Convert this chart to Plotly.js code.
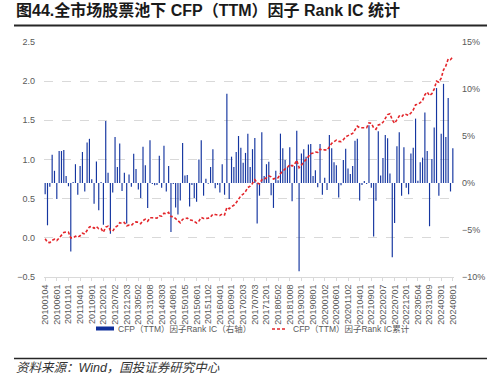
<!DOCTYPE html>
<html>
<head>
<meta charset="utf-8">
<script src="https://cdn.plot.ly/plotly-3.0.1.min.js"></script>
<style>html,body{margin:0;padding:0;background:#fff;}#chart{width:493px;height:378px;}</style>
</head>
<body>
<div id="chart"></div>
<script>
// Month-start trading dates (categories)
const dates = [
"20100104","20100201","20100301","20100401","20100504","20100601","20100701","20100802","20100901","20101008","20101101","20101201",
"20110104","20110201","20110301","20110401","20110503","20110601","20110701","20110801","20110901","20111010","20111101","20111201",
"20120104","20120201","20120301","20120405","20120502","20120601","20120702","20120801","20120903","20121008","20121101","20121203",
"20130104","20130201","20130301","20130401","20130502","20130603","20130701","20130801","20130902","20131008","20131101","20131202",
"20140102","20140207","20140303","20140401","20140505","20140603","20140701","20140801","20140901","20141008","20141103","20141201",
"20150105","20150202","20150302","20150401","20150504","20150601","20150701","20150803","20150901","20151008","20151102","20151201",
"20160104","20160201","20160301","20160401","20160503","20160601","20160701","20160801","20160901","20161010","20161101","20161201",
"20170103","20170203","20170301","20170405","20170502","20170601","20170703","20170801","20170901","20171009","20171101","20171201",
"20180102","20180201","20180301","20180402","20180502","20180601","20180702","20180801","20180903","20181008","20181101","20181203",
"20190102","20190201","20190301","20190401","20190506","20190603","20190701","20190801","20190902","20191008","20191101","20191202",
"20200102","20200203","20200302","20200401","20200506","20200601","20200701","20200803","20200901","20201009","20201102","20201201",
"20210104","20210201","20210301","20210401","20210506","20210601","20210701","20210802","20210901","20211008","20211101","20211201",
"20220104","20220207","20220301","20220401","20220505","20220601","20220701","20220801","20220901","20221010","20221101","20221201",
"20230103","20230201","20230301","20230403","20230504","20230601","20230703","20230801","20230901","20231009","20231101","20231201",
"20240102","20240201","20240301","20240401","20240506","20240603","20240701","20240801"
];

// Monthly Rank IC, in percent (right axis)
const rankIC = [
-1.2,-4.5,-0.4,3.0,1.3,-1.7,3.4,3.4,3.5,0.75,
-0.35,-7.3,0.1,2.0,-1.25,1.8,3.3,-0.9,4.3,4.7,
0.4,-2.2,2.3,-2.9,0.1,-4.45,6.6,1.1,-5.4,-1.0,
4.9,1.7,4.2,-0.85,1.1,-4.3,0.9,-0.4,3.1,1.5,
-0.7,-1.6,3.85,1.9,-2.65,4.55,-0.1,-0.25,-0.2,2.9,
-0.5,3.95,-0.9,1.8,-5.2,-0.1,-2.6,-3.35,-1.85,4.25,
0.8,0.85,-2.5,-0.2,-1.6,-2.0,2.5,4.55,-1.35,0.45,
-0.07,1.7,3.6,-0.55,-0.2,-1.0,2.0,-1.25,9.5,-1.7,
2.8,1.7,3.3,5.0,3.75,2.15,3.2,5.25,1.7,3.6,
4.8,-4.3,-1.35,5.4,0.75,2.0,2.25,-1.3,-2.65,1.3,
0.3,5.25,3.7,2.45,1.7,3.8,-1.95,1.8,5.55,-9.4,
3.15,3.6,2.8,4.1,4.15,0.75,1.35,-0.45,4.15,-1.25,
0.55,-0.75,5.1,3.7,2.2,1.9,-1.55,-0.25,2.45,3.65,
1.55,0.95,1.8,4.5,4.7,-1.85,-0.2,0.2,-0.1,6.15,
-0.5,-5.7,-1.9,5.5,0.8,2.65,5.1,4.75,1.0,-7.9,
-4.25,3.9,5.4,-1.35,3.8,-0.5,-1.2,3.15,3.75,6.85,
0.25,2.2,2.7,7.5,3.4,-4.6,2.55,5.9,10.1,-1.35,
5.25,10.55,4.9,9.05,-0.9,3.7
];

// Cumulative Rank IC (left axis)
const cumIC = [
-0.012,-0.057,-0.061,-0.031,-0.018,-0.035,-0.001,0.033,0.068,0.076,
0.072,-0.001,0.000,0.020,0.008,0.026,0.059,0.050,0.093,0.140,
0.144,0.122,0.145,0.116,0.117,0.072,0.138,0.149,0.095,0.085,
0.134,0.151,0.193,0.185,0.196,0.153,0.162,0.158,0.189,0.204,
0.197,0.181,0.219,0.238,0.212,0.257,0.256,0.254,0.252,0.281,
0.276,0.315,0.306,0.324,0.272,0.271,0.245,0.212,0.193,0.236,
0.244,0.252,0.227,0.225,0.209,0.189,0.214,0.260,0.246,0.251,
0.250,0.267,0.303,0.297,0.295,0.285,0.305,0.293,0.388,0.371,
0.399,0.416,0.449,0.499,0.536,0.558,0.590,0.642,0.659,0.695,
0.743,0.700,0.687,0.741,0.748,0.768,0.791,0.778,0.751,0.764,
0.767,0.820,0.857,0.881,0.898,0.936,0.917,0.935,0.990,0.896,
0.928,0.964,0.992,1.033,1.074,1.082,1.095,1.091,1.132,1.120,
1.125,1.118,1.169,1.206,1.228,1.247,1.231,1.229,1.253,1.290,
1.305,1.315,1.333,1.378,1.425,1.406,1.404,1.406,1.405,1.467,
1.462,1.405,1.386,1.441,1.449,1.475,1.526,1.574,1.584,1.505,
1.462,1.501,1.555,1.542,1.580,1.575,1.563,1.594,1.632,1.700,
1.703,1.725,1.752,1.827,1.861,1.815,1.840,1.899,2.000,1.987,
2.039,2.145,2.194,2.284,2.275,2.312
];

// Category labels shown on the x axis
const tickLabels = [
"20100104","20100601","20101101","20110401","20110901","20120201","20120702","20121203",
"20130502","20131008","20140303","20140801","20150105","20150601","20151102","20160401",
"20160901","20170203","20170703","20171201","20180502","20181008","20190301","20190801",
"20200102","20200601","20201102","20210401","20210901","20220207","20220701","20221201",
"20230504","20231009","20240301","20240801"
];

const seriesNames = ["CFP（TTM）因子Rank IC（右轴）", "CFP（TTM）因子Rank IC累计"];

const BAR = "#1536a0", RED = "#e3262b", GRAY = "#595959", GRID = "#d9d9d9";
const FONT = "'Liberation Sans', Arial, 'Noto Sans CJK SC', sans-serif";
const CJK = "'Liberation Sans', 'Noto Sans CJK SC', sans-serif";

const L = 44, R = 39, T = 42, B = 101, W = 493, H = 378;
const pw = W - L - R, ph = H - T - B;
const px = v => (v - L) / pw;
const py = v => (H - B - v) / ph;

const traces = [
  {type: "bar", x: dates, y: rankIC, yaxis: "y", name: seriesNames[0],
   marker: {color: BAR, line: {width: 0}}, showlegend: false, hoverinfo: "skip"},
  {type: "scatter", mode: "lines", x: dates, y: cumIC, yaxis: "y2", name: seriesNames[1],
   line: {color: RED, width: 1.6, dash: "3px,2px"}, showlegend: false, hoverinfo: "skip"}
];

const layout = {
  width: W, height: H,
  margin: {l: L, r: R, t: T, b: B, pad: 0},
  paper_bgcolor: "#fff", plot_bgcolor: "#fff",
  font: {family: FONT, size: 9, color: GRAY},
  bargap: 0.5,
  showlegend: false,
  xaxis: {type: "category", range: [-0.5, dates.length - 0.5],
    tickvals: tickLabels, ticktext: tickLabels, tickangle: -90,
    tickfont: {family: FONT, size: 9, color: GRAY},
    showline: true, linecolor: GRID, linewidth: 1,
    ticks: "outside", ticklen: 3, tickcolor: GRID, showgrid: false, zeroline: false},
  yaxis: {side: "right", range: [-10, 15], dtick: 5, ticksuffix: "%",
    showgrid: false, zeroline: false, showline: false, ticks: "",
    tickfont: {family: FONT, size: 9, color: GRAY}, ticklabelstandoff: 7},
  yaxis2: {overlaying: "y", side: "left", range: [-0.5, 2.5], dtick: 0.5, tickformat: ".1f",
    showgrid: true, gridcolor: GRID, griddash: "dash", gridwidth: 1,
    zeroline: false, showline: false, ticks: "",
    tickfont: {family: FONT, size: 9, color: GRAY}, ticklabelstandoff: 8},
  shapes: [
    {type: "line", xref: "paper", yref: "paper", x0: px(14), x1: px(487), y0: py(25.5), y1: py(25.5),
     line: {color: "#262626", width: 2}},
    {type: "line", xref: "paper", yref: "paper", x0: px(14), x1: px(487), y0: py(358.5), y1: py(358.5),
     line: {color: "#262626", width: 1.5}},
    {type: "rect", xref: "paper", yref: "paper", x0: px(96), x1: px(114), y0: py(330.5), y1: py(326.5),
     fillcolor: "#0f2f9a", line: {width: 0}},
    {type: "line", xref: "paper", yref: "paper", x0: px(272), x1: px(287), y0: py(329), y1: py(329),
     line: {color: RED, width: 1.6, dash: "3px,2px"}}
  ],
  annotations: [
    {xref: "paper", yref: "paper", x: px(14), y: py(10), xanchor: "left", yanchor: "middle", showarrow: false,
     text: "<b>图44.全市场股票池下 CFP（TTM）因子 Rank IC 统计</b>",
     font: {family: CJK, size: 16, color: "#1a1a1a"}},
    {xref: "paper", yref: "paper", x: px(116), y: py(328.7), xanchor: "left", yanchor: "middle", showarrow: false,
     text: seriesNames[0], font: {family: CJK, size: 8.5, color: GRAY}},
    {xref: "paper", yref: "paper", x: px(291), y: py(328.7), xanchor: "left", yanchor: "middle", showarrow: false,
     text: seriesNames[1], font: {family: CJK, size: 8.5, color: GRAY}},
    {xref: "paper", yref: "paper", x: px(14), y: py(368), xanchor: "left", yanchor: "middle", showarrow: false,
     text: "<i>资料来源：Wind，国投证券研究中心</i>", font: {family: CJK, size: 12.5, color: "#333"}}
  ]
};

Plotly.newPlot("chart", traces, layout, {displayModeBar: false, staticPlot: true});
</script>
</body>
</html>
